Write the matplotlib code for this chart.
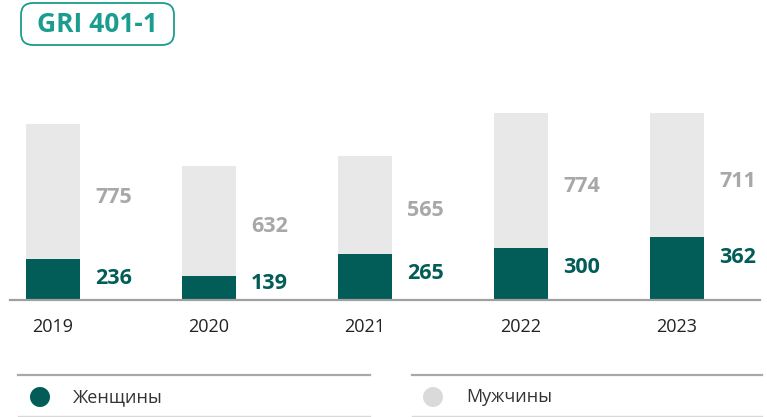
import matplotlib
matplotlib.use("Agg")
import matplotlib.pyplot as plt
from matplotlib.patches import FancyBboxPatch, Ellipse
from matplotlib.lines import Line2D

plt.rcParams['font.family'] = ['Open Sans', 'DejaVu Sans']

##### data #####
years = ['2019', '2020', '2021', '2022', '2023']
women = [236, 139, 265, 300, 362]
men = [775, 632, 565, 774, 711]

series_names = ['Женщины', 'Мужчины']
badge_text = 'GRI 401-1'

##### colours #####
c_women = '#025c57'
c_men = '#e8e8e8'
c_men_label = '#a8a8a8'
c_badge = '#1a9c8e'
c_axis = '#a0a0a0'

W, H = 767, 417
fig = plt.figure(figsize=(W / 100, H / 100), dpi=100)
tr = fig.dpi_scale_trans


def pin(x, y):
    # pixel (from top-left) -> inches for dpi_scale_trans
    return x / 100, (H - y) / 100


# main axes: baseline at y=300px, from x=10 to 760px
ax = fig.add_axes([10 / W, 117 / H, 750 / W, 200 / H])
x = list(range(len(years)))
bw = 0.346
ax.bar(x, women, width=bw, color=c_women, zorder=2)
ax.bar(x, men, width=bw, bottom=women, color=c_men, zorder=2)

ax.set_xlim(-0.276, 4.532)
ax.set_ylim(0, 1149)
for s in ['top', 'right', 'left']:
    ax.spines[s].set_visible(False)
ax.spines['bottom'].set_color(c_axis)
ax.spines['bottom'].set_linewidth(1.6)
ax.set_yticks([])
ax.set_xticks(x)
ax.set_xticklabels(years, fontsize=13, color='#222222')
ax.tick_params(axis='x', length=0, pad=13)

for i in x:
    wy = max(women[i] - 115, 92)
    ax.text(i + 0.27, wy, str(women[i]), ha='left', va='center',
            fontsize=15.5, fontweight='bold', color=c_women)
    my = women[i] + men[i] / 2 - 35
    ax.text(i + 0.27, my, str(men[i]), ha='left', va='center',
            fontsize=15.5, fontweight='bold', color=c_men_label)

##### badge #####
bx0, by0 = pin(21, 45)
badge = FancyBboxPatch((bx0 + 0.12, by0 + 0.12), 1.53 - 0.24, 0.42 - 0.24,
                       boxstyle='round,pad=0.12', transform=tr,
                       facecolor='white', edgecolor=c_badge, linewidth=1.3)
fig.add_artist(badge)
tx, ty = pin(97, 25)
fig.text(tx, ty, badge_text, transform=tr, ha='center', va='center',
         fontsize=19, fontweight='bold', color=c_badge)

##### legend #####
leg_cols = [(18, 370, 40, 73, c_women), (412, 762, 433, 466, '#dadada')]
for (x0, x1, cx, tx0, col), name in zip(leg_cols, series_names):
    fig.add_artist(Line2D([x0 / 100, x1 / 100], [(H - 375) / 100] * 2,
                          transform=tr, color='#a9a9a9', linewidth=1.6))
    fig.add_artist(Line2D([x0 / 100, x1 / 100], [(H - 415.5) / 100] * 2,
                          transform=tr, color='#d9d9d9', linewidth=1.0))
    ex, ey = pin(cx, 397)
    fig.add_artist(Ellipse((ex, ey), 0.2, 0.2, transform=tr,
                           facecolor=col, edgecolor='none'))
    lx, ly = pin(tx0, 397)
    fig.text(lx, ly, name, transform=tr, ha='left', va='center',
             fontsize=13, color='#333333')

fig.savefig('out.png', dpi=100)
plt.close()
